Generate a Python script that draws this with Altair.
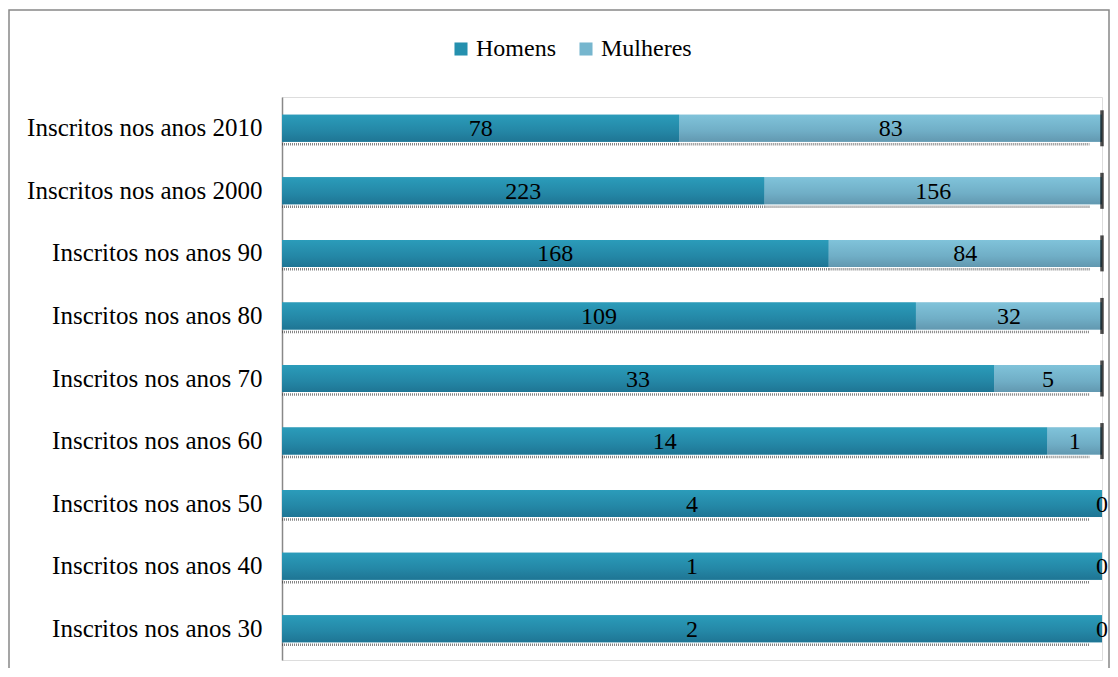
import altair as alt
import pandas as pd

categories = ["Inscritos nos anos 2010", "Inscritos nos anos 2000", "Inscritos nos anos 90",
              "Inscritos nos anos 80", "Inscritos nos anos 70", "Inscritos nos anos 60",
              "Inscritos nos anos 50", "Inscritos nos anos 40", "Inscritos nos anos 30"]
homens = [78, 223, 168, 109, 33, 14, 4, 1, 2]
mulheres = [83, 156, 84, 32, 5, 1, 0, 0, 0]
series = ["Homens", "Mulheres"]

rows = []
for c, h, m in zip(categories, homens, mulheres):
    rows.append({"cat": c, "serie": "Homens", "ord": 0, "v": h})
    rows.append({"cat": c, "serie": "Mulheres", "ord": 1, "v": m})
df = pd.DataFrame(rows)

FONT = "Liberation Serif, Times New Roman, serif"
grad_h = alt.LinearGradient(gradient="linear", x1=0, x2=0, y1=0, y2=1,
                            stops=[alt.GradientStop(color="#2b9cba", offset=0),
                                   alt.GradientStop(color="#2487a6", offset=0.6),
                                   alt.GradientStop(color="#1f7594", offset=1)])
grad_m = alt.LinearGradient(gradient="linear", x1=0, x2=0, y1=0, y2=1,
                            stops=[alt.GradientStop(color="#80c3da", offset=0),
                                   alt.GradientStop(color="#70aec6", offset=0.6),
                                   alt.GradientStop(color="#6298b0", offset=1)])

base = alt.Chart(df).transform_stack(
    stack="v", groupby=["cat"], as_=["x0", "x1"], offset="normalize",
    sort=[alt.SortField("ord", order="ascending")]
).transform_calculate(mid="(datum.x0 + datum.x1) / 2")

yenc = alt.Y("cat:N", sort=categories, title=None,
             scale=alt.Scale(paddingInner=0.3, paddingOuter=0.15),
             axis=alt.Axis(labelFont=FONT, labelFontSize=25, labelColor="#000",
                           ticks=False, labelPadding=20, domainColor="#888",
                           domainWidth=1.5, grid=False, labelLimit=400))
xscale = alt.Scale(domain=[0, 1], nice=False)

bars_legend = base.mark_bar(size=27).encode(
    y=yenc,
    x=alt.X("x0:Q", scale=xscale, axis=None),
    x2="x1:Q",
    color=alt.Color("serie:N", sort=series,
                    scale=alt.Scale(domain=series, range=["#2590ae", "#76b6ce"]),
                    legend=alt.Legend(title=None, orient="none", direction="horizontal",
                                      legendX=167, legendY=-60, symbolType="square",
                                      symbolSize=170, symbolStrokeWidth=0,
                                      labelFont=FONT, labelFontSize=24, labelColor="#000",
                                      columnPadding=18, symbolOffset=0, labelOffset=3)),
)

bars_grad = base.mark_bar(size=27).encode(
    y=alt.Y("cat:N", sort=categories),
    x=alt.X("x0:Q", scale=xscale),
    x2="x1:Q",
    fill=alt.condition(alt.datum.serie == "Homens", alt.value(grad_h), alt.value(grad_m)),
)

shadow = base.transform_filter(alt.datum.v > 0).transform_calculate(
    xe="datum.x1 < 0.999 ? datum.x1 : datum.x1 - 0.015"
).mark_rule(
    strokeDash=[1, 1], color="#333", strokeWidth=2.5, opacity=0.6
).encode(
    y=alt.Y("cat:N", sort=categories, bandPosition=0.865),
    x=alt.X("x0:Q", scale=xscale),
    x2="xe:Q",
)

endtick = base.transform_filter(
    (alt.datum.serie == "Mulheres") & (alt.datum.v > 0)
).mark_tick(color="#000", thickness=3.5, size=36, orient="vertical").encode(
    y=alt.Y("cat:N", sort=categories, bandPosition=0.6),
    x=alt.X("x1:Q", scale=xscale),
)

labels = base.mark_text(font=FONT, fontSize=24, color="#000", baseline="middle",
                        align="center", dy=1).encode(
    y=alt.Y("cat:N", sort=categories),
    x=alt.X("mid:Q", scale=xscale),
    text=alt.Text("v:Q"),
)

frame = alt.Chart(pd.DataFrame({"a": [0]})).mark_rect(
    fill=None, stroke="#888", strokeWidth=1.5, clip=False
).encode(x=alt.value(-273), x2=alt.value(827), y=alt.value(-87), y2=alt.value(600))

chart = alt.layer(frame, bars_legend, bars_grad, shadow, endtick, labels).resolve_scale(
    y="shared"
).properties(
    width=820, height=563,
    padding={"left": 274, "top": 89, "right": 8, "bottom": 8},
    autosize=alt.AutoSizeParams(type="none"),
).configure_view(stroke=None).configure(
    background="white", font=FONT
).configure_legend(labelFont=FONT).configure_text(font=FONT)

chart.save("out.html", embed_options={"renderer": "svg", "actions": False})
